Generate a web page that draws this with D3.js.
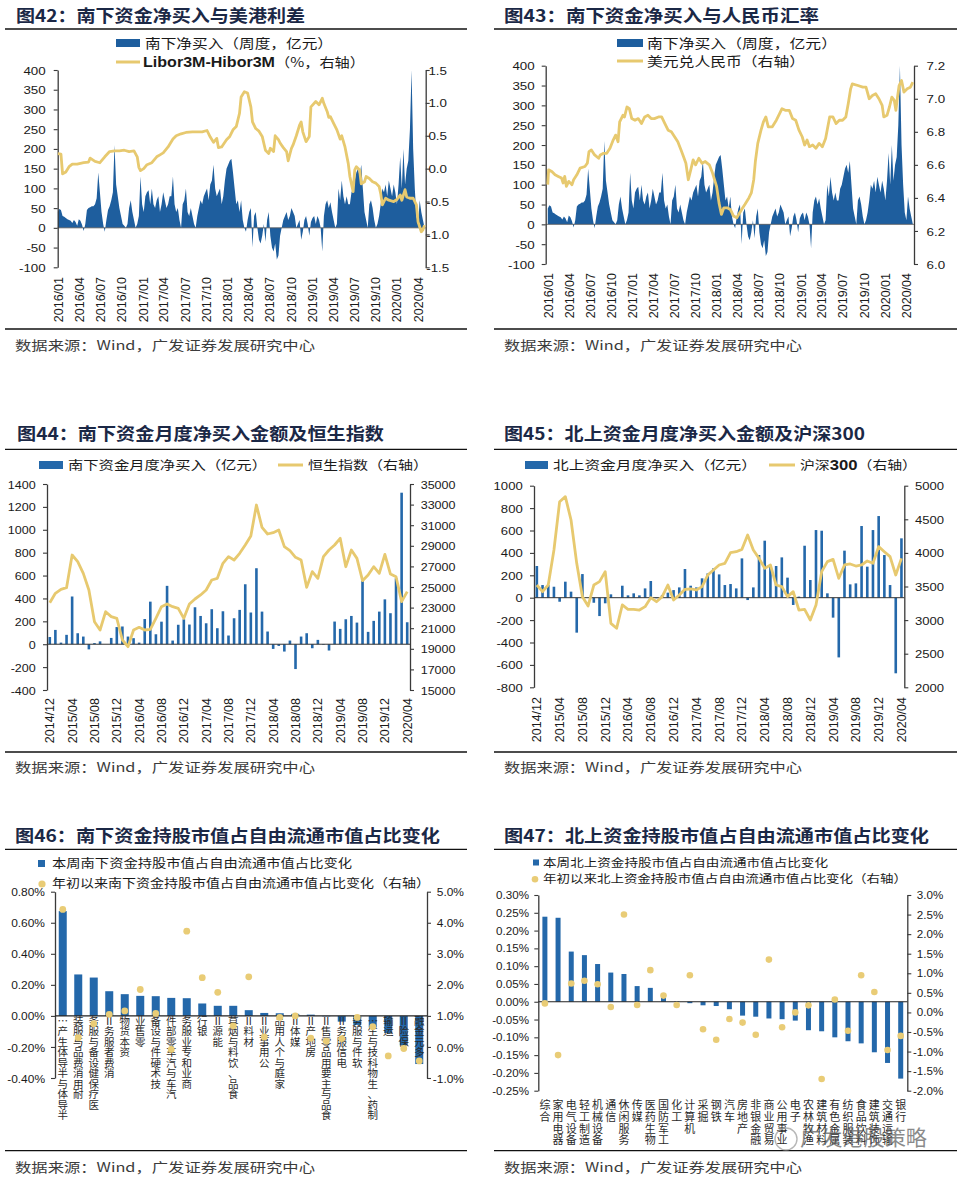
<!DOCTYPE html>
<html><head><meta charset="utf-8"><title>南下资金与北上资金</title>
<script src="https://cdn.jsdelivr.net/npm/d3@7/dist/d3.min.js"></script>
<style>html,body{margin:0;padding:0;background:#fff}svg{display:block}</style>
</head><body>
<svg id="chart" width="957" height="1179" xmlns="http://www.w3.org/2000/svg"></svg>
<script>
// ===================== DATA =====================
const titles = ["图42：南下资金净买入与美港利差","图43：南下资金净买入与人民币汇率","图44：南下资金月度净买入金额及恒生指数","图45：北上资金月度净买入金额及沪深300","图46：南下资金持股市值占自由流通市值占比变化","图47：北上资金持股市值占自由流通市值占比变化"];
const sourceText = "数据来源：Wind，广发证券发展研究中心";

// weekly southbound net buy (亿元), weeks starting 2016-01-01
const weekStart = "2016-01-01";
const weeklyNetBuy = [40,48,45,30,28,25,22,20,18,12,
 20,15,5,22,18,8,-8,10,45,50,
 52,55,55,60,75,140,90,40,10,-10,
 20,45,55,70,90,210,110,80,50,30,
 10,5,0,10,50,70,40,20,0,10,
 30,130,60,40,80,90,95,60,100,60,
 50,70,80,40,60,90,70,50,60,80,
 80,130,60,40,50,20,0,60,70,100,
 40,30,50,30,10,0,30,50,70,60,
 80,90,100,70,110,120,160,100,80,90,
 100,60,80,120,150,160,170,175,140,100,
 60,70,40,70,20,0,-10,20,40,50,
 -50,30,40,0,-30,-40,-20,10,-35,20,
 40,-20,-50,-60,-40,-80,-70,-20,0,20,
 30,40,20,30,50,40,30,0,10,20,
 -30,-10,20,30,10,-20,15,25,30,10,
 30,20,0,-60,30,60,70,50,65,40,
 20,0,10,100,70,120,80,60,80,60,
 60,90,100,120,140,150,130,160,100,40,
 20,0,60,70,50,20,0,10,30,60,
 100,90,110,80,120,100,80,110,90,60,
 110,180,100,200,110,150,170,250,400,200,
 100,30,10,70,40,20,0];

// Libor3M-Hibor3M (%), week number since weekStart
const liborWeek = [0,2,3,5,7,9,12,16,19,20,23,26,29,32,35,38,41,44,47,49,50,51,53,55,58,61,63,65,68,71,73,76,79,83,86,89,92,94,96,98,99,101,104,106,108,110,112,113,115,117,119,120,122,124,126,128,130,131,133,134,136,137,139,141,142,144,145,147,149,150,151,153,155,156,159,161,163,164,166,167,168,170,172,174,175,177,179,180,182,183,184,186,187,189,190,192,194,196,198,199,200,202,204,207,209,211,212,214,215,217,219,221,222,224,225,226];
const liborValue = [0.23,0.22,-0.08,-0.05,0.03,0.07,0.07,0.09,0.10,0.16,0.11,0.09,0.18,0.26,0.27,0.27,0.28,0.26,0.27,0.18,0.02,-0.03,0.0,0.06,0.09,0.18,0.21,0.24,0.33,0.45,0.50,0.53,0.55,0.56,0.56,0.56,0.58,0.48,0.40,0.46,0.32,0.33,0.44,0.49,0.59,0.64,0.84,1.09,1.17,1.15,0.94,0.71,0.61,0.57,0.49,0.28,0.23,0.31,0.26,0.50,0.44,0.39,0.32,0.26,0.12,0.31,0.36,0.50,0.66,0.71,0.56,0.41,0.49,0.94,1.02,0.97,1.07,0.99,0.87,0.78,0.79,0.69,0.59,0.45,0.50,0.33,0.08,-0.12,-0.35,-0.02,0.03,-0.02,-0.23,-0.20,-0.12,-0.15,-0.20,-0.22,-0.27,-0.38,-0.55,-0.45,-0.48,-0.50,-0.47,-0.40,-0.48,-0.32,-0.43,-0.45,-0.45,-0.55,-0.81,-0.96,-0.93,-0.86];

// USD/CNY, week number since weekStart
const cnyWeek = [0,0.5,2.5,4.5,6.5,8.5,9.5,10.5,11.5,13,15,16,18,20,23,24.5,25.5,27,29,31.5,32.5,34.5,36.5,38.5,40.5,42,43.5,44.5,46.5,47.5,49,50.5,52,54,56,58,60,62,64,66,68.5,70.5,72.5,74.5,76.5,78.5,80.5,82.5,84,85.5,87,88.5,90,91.5,93.5,95.5,97.5,100,102,104.5,106,107.5,109,111,113,115,117,120,122,124.5,126,127.5,128.5,130,132,133.5,135,136.5,139,141.5,143.5,145,147,149.5,151.5,153.5,155.5,157.5,159,160.5,162,164,166,168,170,172,174.5,176.5,178.5,180.5,182.5,184.5,186,187.5,188.5,192,195,197,199,201,203,205,207,208,210,211.5,213,214.5,215.5,216.5,217.5,219,220.5,222.5,224.5,226];
const cnyValue = [6.48,6.57,6.56,6.54,6.53,6.52,6.49,6.53,6.47,6.50,6.48,6.51,6.54,6.58,6.59,6.61,6.68,6.69,6.66,6.64,6.66,6.67,6.67,6.70,6.75,6.78,6.74,6.86,6.90,6.89,6.95,6.94,6.88,6.87,6.88,6.85,6.89,6.90,6.88,6.88,6.89,6.89,6.85,6.81,6.80,6.77,6.74,6.69,6.65,6.61,6.51,6.57,6.63,6.60,6.64,6.61,6.62,6.60,6.55,6.47,6.37,6.30,6.34,6.34,6.33,6.29,6.28,6.33,6.36,6.40,6.43,6.51,6.62,6.73,6.81,6.86,6.89,6.83,6.83,6.87,6.91,6.94,6.93,6.93,6.88,6.87,6.81,6.77,6.72,6.75,6.71,6.72,6.70,6.73,6.71,6.76,6.89,6.89,6.85,6.87,6.87,6.89,6.97,7.06,7.09,7.08,7.07,7.07,7.00,7.02,7.03,7.00,6.96,6.89,6.90,6.95,7.01,6.99,6.93,7.01,7.08,7.11,7.04,7.06,7.07,7.10];

const ticksWeekly = ["2016/01","2016/04","2016/07","2016/10","2017/01","2017/04","2017/07","2017/10","2018/01","2018/04","2018/07","2018/10","2019/01","2019/04","2019/07","2019/10","2020/01","2020/04"];

// monthly series 2014/12 .. 2020/04
const monthFirst = "2014/12", monthLast = "2020/04";
const southMonthly = [63,125,14,82,417,96,67,-45,10,25,
 0,55,150,155,67,53,14,220,372,87,
 197,510,32,170,218,172,323,247,183,306,
 140,288,76,227,300,524,277,664,285,111,
 -41,-15,-64,32,-217,67,96,-35,38,-5,
 -55,198,134,218,247,189,553,108,204,285,
 392,271,577,1324,192];
const hsiMonthly = [23480,24385,24773,24935,28105,27460,26325,24710,21635,20825,
 22605,22120,21960,19855,19205,20825,21085,20825,20890,21960,
 23090,23350,23090,22930,21960,23350,23835,24225,24710,25680,
 25840,27300,27945,27620,28270,29080,29950,32960,30790,30145,
 30275,30530,28915,28525,27880,27620,24965,26490,25840,27945,
 28590,29080,29725,26970,28590,27780,25615,26165,26970,26325,
 28170,26260,26000,23575,24545];
const northMonthly = [283,113,113,98,-36,143,54,-312,211,0,
 -45,-164,-50,30,0,107,21,39,21,83,
 149,-5,24,45,68,92,256,107,92,173,
 217,262,208,113,122,83,351,-21,92,381,
 509,283,283,360,179,-65,10,464,158,604,
 598,39,-178,-533,420,119,128,640,277,604,
 729,381,113,-675,530];
const hs300Monthly = [3522,3423,3522,4043,4762,4837,4490,3845,3349,3210,
 3522,3572,3721,2952,2878,3225,3160,3160,3150,3200,
 3334,3274,3349,3522,3299,3374,3458,3463,3448,3498,
 3671,3746,3820,3845,4003,4018,4053,4266,4043,3919,
 3770,3820,3522,3498,3349,3423,3150,3160,3002,3225,
 3721,3870,3904,3622,3820,3835,3805,3820,3880,3845,
 4093,4018,3944,3671,3919];
const ticksMonthly = ["2014/12","2015/04","2015/08","2015/12","2016/04","2016/08","2016/12","2017/04","2017/08","2017/12","2018/04","2018/08","2018/12","2019/04","2019/08","2019/12","2020/04"];

// chart 46
const cat46 = ["半导体与半导体生产…","耐用消费品与服装","医疗保健设备与服务","消费者服务Ⅱ","资本货物","零售业","技术硬件与设备","汽车与汽车零部件","商业和专业服务","银行","能源Ⅱ","食品、饮料与烟草","材料Ⅱ","公用事业Ⅱ","家庭与个人用品","媒体Ⅱ","房地产Ⅱ","食品与主要用品零售Ⅱ","电信服务Ⅱ","软件与服务","制药、生物科技与生…","运输","保险Ⅱ","多元金融"];
const bar46 = [0.675,0.267,0.247,0.159,0.14,0.129,0.127,0.116,0.114,0.08,0.065,0.065,0.037,0.019,0.017,0.013,0.008,-0.003,-0.037,-0.058,-0.075,-0.11,-0.19,-0.31];
const dot46 = [4.43,0.30,0.75,1.05,1.16,1.85,1.08,-0.08,3.73,2.23,1.76,0.68,2.26,0.32,0.95,1.0,0.28,0.19,0.27,0.95,0.65,-0.29,-0.05,-0.45];
// chart 47
const cat47 = ["综合","家用电器","电气设备","轻工制造","机械设备","通信","休闲服务","传媒","医药生物","国防军工","化工","计算机","采掘","钢铁","汽车","房地产","非银金融","商业贸易","公用事业","电子","农林牧渔","建筑材料","有色金属","纺织服装","食品饮料","建筑装饰","交通运输","银行"];
const bar47 = [0.239,0.236,0.141,0.131,0.106,0.082,0.078,0.044,0.039,0.012,0.001,-0.004,-0.010,-0.012,-0.021,-0.039,-0.042,-0.047,-0.049,-0.053,-0.080,-0.083,-0.100,-0.111,-0.117,-0.142,-0.172,-0.216];
const dot47 = [0.23,-1.09,0.74,0.81,0.72,0.14,2.50,0.19,1.08,0.43,0.19,0.95,-0.43,-0.70,-0.17,-0.26,-0.57,1.35,-0.38,0.0,0.18,-1.70,0.33,-0.47,0.95,0.52,-0.96,-0.60];

// axis tick values
const y42L = [400,350,300,250,200,150,100,50,0,-50,-100];
const y42R = [1.5,1.0,0.5,0,-0.5,-1.0,-1.5];
const y43R = [7.2,7.0,6.8,6.6,6.4,6.2,6.0];
const y44L = [1400,1200,1000,800,600,400,200,0,-200,-400];
const y44R = [35000,33000,31000,29000,27000,25000,23000,21000,19000,17000,15000];
const y45L = [1000,800,600,400,200,0,-200,-400,-600,-800];
const y45R = [5000,4500,4000,3500,3000,2500,2000];
const y46L = [0.8,0.6,0.4,0.2,0,-0.2,-0.4];
const y46R = [5,4,3,2,1,0,-1];
const y47L = [0.30,0.25,0.20,0.15,0.10,0.05,0,-0.05,-0.10,-0.15,-0.20,-0.25];
const y47R = [3,2.5,2,1.5,1,0.5,0,-0.5,-1,-1.5,-2];

const legend42 = ["南下净买入（周度，亿元）","Libor3M-Hibor3M","（%，右轴）"];
const legend43 = ["南下净买入（周度，亿元）","美元兑人民币（右轴）"];
const legend44 = ["南下资金月度净买入（亿元）","恒生指数（右轴）"];
const legend45 = ["北上资金月度净买入（亿元）","沪深","300","（右轴）"];
const legend46 = ["本周南下资金持股市值占自由流通市值占比变化","年初以来南下资金持股市值占自由流通市值占比变化（右轴）"];
const legend47 = ["本周北上资金持股市值占自由流通市值占比变化","年初以来北上资金持股市值占自由流通市值占比变化（右轴）"];

// ===================== DRAWING =====================
const svg = d3.select("#chart");
const BLUE = "#1e5e9e", BAR = "#2468aa", YEL = "#e7c96f", DOT = "#e9cc76", AX = "#3a3a3a";
const LAT = "'Liberation Sans', Arial, sans-serif";
const CJK = "'Noto Sans CJK SC', 'Liberation Sans', sans-serif";
const MIX = "'Liberation Sans', 'Noto Sans CJK SC', sans-serif";

svg.append("rect").attr("width", 957).attr("height", 1179).attr("fill", "#fff");

function T(p, x, y, s, o = {}) {
  let tr = `translate(${x},${y})`;
  if (o.sx && o.sx !== 1) tr += ` scale(${o.sx},1)`;
  if (o.rot) tr += ` rotate(${o.rot})`;
  const t = p.append("text").attr("transform", tr).text(s)
    .attr("font-family", o.fam || MIX).attr("font-size", o.size || 12)
    .attr("fill", o.fill || "#1a1a1a").attr("text-anchor", o.anchor || "start")
    .attr("dy", o.dy || "0.36em");
  if (o.w) t.attr("font-weight", o.w);
  if (o.len) t.attr("textLength", o.len).attr("lengthAdjust", "spacingAndGlyphs");
  if (o.op) t.attr("opacity", o.op);
  return t;
}
function hline(p, x1, x2, y, col, w) {
  p.append("line").attr("x1", x1).attr("x2", x2).attr("y1", y).attr("y2", y)
    .attr("stroke", col).attr("stroke-width", w);
}
function yAx(g, side, sc, vals, fmt, x, o) {
  const ax = (side === "L" ? d3.axisLeft(sc) : d3.axisRight(sc))
    .tickValues(vals).tickFormat(fmt).tickSizeInner(4).tickSizeOuter(0).tickPadding(0);
  const a = g.append("g").attr("transform", `translate(${x},0)`).call(ax);
  a.select(".domain").attr("stroke", AX).attr("stroke-width", 1.3);
  a.selectAll(".tick line").attr("stroke", AX).attr("stroke-width", 1.1);
  const off = side === "L" ? -o.off : o.off;
  a.selectAll(".tick text")
    .attr("x", null).attr("dy", "0.35em")
    .attr("transform", `translate(${off},0) scale(${o.sx || 1},1)`)
    .attr("text-anchor", o.anchor || (side === "L" ? "end" : "start"))
    .attr("font-family", LAT).attr("font-size", o.size).attr("fill", "#1a1a1a");
  return a;
}
function xAxRot(g, sc, vals, fmt, y, size) {
  const a = g.append("g").attr("transform", `translate(0,${y})`)
    .call(d3.axisBottom(sc).tickValues(vals).tickFormat(fmt).tickSize(0).tickPadding(0));
  a.select(".domain").remove();
  a.selectAll(".tick text").attr("y", null).attr("dy", "0.36em").attr("transform", "rotate(-90)")
    .attr("text-anchor", "end").attr("font-family", LAT).attr("font-size", size).attr("fill", "#1a1a1a");
}

// ---- titles, rules, sources ----
const frame = svg.append("g");
const TITLE = {fam: CJK, size: 17, w: "bold", fill: "#1b2846"};
T(frame, 16, 15.8, titles[0], {...TITLE, len: 289});
T(frame, 504, 15.8, titles[1], {...TITLE, len: 315});
T(frame, 17, 433.5, titles[2], {...TITLE, len: 367});
T(frame, 504, 433.5, titles[3], {...TITLE, len: 361});
T(frame, 15, 835.5, titles[4], {...TITLE, len: 425});
T(frame, 504, 835.5, titles[5], {...TITLE, len: 425});
[29, 449.3, 849.3, 329, 752, 1150.7].forEach(y => {
  hline(frame, 5, 467, y, "#111", 1.3);
  hline(frame, 494, 957, y, "#111", 1.3);
});
const SRC = {fam: CJK, size: 13, fill: "#3c3c3c"};
[345, 767, 1167].forEach(y => {
  T(frame, 15, y, sourceText, {...SRC, len: 300});
  T(frame, 504, y, sourceText, {...SRC, len: 298});
});

// ---- weekly panels (42, 43) ----
const parseM = d3.timeParse("%Y/%m");
const ws = d3.timeParse("%Y-%m-%d")(weekStart);
const weekDate = w => new Date(ws.getTime() + w * 7 * 864e5);

function weeklyPanel(o) {
  const g = svg.append("g");
  const x = d3.scaleTime().domain(o.dom).range([o.x0, o.x1]);
  const yL = d3.scaleLinear().domain([-100, 400]).range([o.yb, o.yt]);
  const yR = d3.scaleLinear().domain(o.rDom).range([o.yb, o.yt]);
  const id = "clip" + o.id;
  svg.append("clipPath").attr("id", id).append("rect")
    .attr("x", o.x0).attr("y", o.yt - 1).attr("width", o.x1 - o.x0).attr("height", o.yb - o.yt + 2);
  const pts = weeklyNetBuy.map((v, i) => ({d: weekDate(i), v}));
  g.append("path").datum(pts).attr("clip-path", `url(#${id})`).attr("fill", BLUE)
    .attr("d", d3.area().x(d => x(d.d)).y0(yL(0)).y1(d => yL(d.v)));
  hline(g, o.x0, o.x1, yL(0), "#555", 0.8);
  yAx(g, "L", yL, y42L, d => String(d), o.x0, {off: o.offL, size: 11.6, sx: 1.15});
  yAx(g, "R", yR, o.rTicks, d => d.toFixed(1), o.x1, {off: o.offR, size: 11.6, sx: 1.15, anchor: o.rAnchor});
  const line = o.lineW.map((w, i) => ({d: weekDate(w), v: o.lineV[i]}));
  g.append("path").datum(line).attr("fill", "none").attr("stroke", YEL).attr("stroke-width", 2.8)
    .attr("stroke-linejoin", "round").attr("clip-path", `url(#${id})`)
    .attr("d", d3.line().x(d => x(d.d)).y(d => yR(d.v)));
  xAxRot(g, x, ticksWeekly.map(parseM), d3.timeFormat("%Y/%m"), o.labY, 12.5);
  return g;
}
const g42 = weeklyPanel({id: 42, dom: [new Date(2016, 0, 1), new Date(2020, 4, 6)], x0: 57.7, x1: 425.7, yt: 70, yb: 267.3,
  rDom: [-1.5, 1.5], rTicks: y42R, lineW: liborWeek, lineV: liborValue, offL: 12, offR: 12, rAnchor: "middle", labY: 277});
const g43 = weeklyPanel({id: 43, dom: [new Date(2015, 11, 23), new Date(2020, 4, 6)], x0: 545.7, x1: 914, yt: 65.7, yb: 264,
  rDom: [6.0, 7.2], rTicks: y43R, lineW: cnyWeek, lineV: cnyValue, offL: 11, offR: 12.5, rAnchor: "start", labY: 273});

// legends 42/43
const LEG = {fam: CJK, size: 13, fill: "#1a1a1a"};
g42.append("rect").attr("x", 116).attr("y", 39).attr("width", 24).attr("height", 8).attr("fill", BLUE);
T(g42, 145, 43, legend42[0], {...LEG, len: 188});
hline(g42, 116, 140, 62, YEL, 3);
T(g42, 143, 62, legend42[1], {fam: LAT, size: 14, w: "bold", len: 132});
T(g42, 275, 62, legend42[2], {...LEG, len: 90});
g43.append("rect").attr("x", 617).attr("y", 39).attr("width", 26).attr("height", 8).attr("fill", BLUE);
T(g43, 647, 43, legend43[0], {...LEG, len: 190});
hline(g43, 617, 643, 61, YEL, 3);
T(g43, 647, 61, legend43[1], {...LEG, len: 158});

// ---- monthly panels (44, 45) ----
const months = d3.timeMonth.range(parseM(monthFirst), d3.timeMonth.offset(parseM(monthLast), 1)).map(d3.timeFormat("%Y/%m"));
function monthlyPanel(o) {
  const g = svg.append("g");
  const x = d3.scaleBand().domain(months).range([o.x0, o.x1]);
  const yL = d3.scaleLinear().domain(o.lDom).range([o.yb, o.yt]);
  const yR = d3.scaleLinear().domain(o.rDom).range([o.yb, o.yt]);
  yAx(g, "L", yL, o.lTicks, d => String(d), o.x0, {off: 11.3, size: 11.6, sx: o.sx});
  yAx(g, "R", yR, o.rTicks, d => String(d), o.x1, {off: 10.7, size: 11.6, sx: o.sx});
  const bw = 2.6;
  g.selectAll(null).data(o.bars).join("rect")
    .attr("x", (d, i) => x(months[i]) + x.bandwidth() / 2 - bw / 2).attr("width", bw)
    .attr("y", d => yL(Math.max(0, d))).attr("height", d => Math.abs(yL(d) - yL(0)))
    .attr("fill", BAR);
  hline(g, o.x0, o.x1, yL(0), "#333", 1);
  g.append("path").datum(o.line).attr("fill", "none").attr("stroke", YEL).attr("stroke-width", 2.8)
    .attr("stroke-linejoin", "round")
    .attr("d", d3.line().x((d, i) => x(months[i]) + x.bandwidth() / 2).y(d => yR(d)));
  xAxRot(g, x, ticksMonthly, d => d, o.labY, 12.5);
  return g;
}
const g44 = monthlyPanel({x0: 47, x1: 410, yt: 484, yb: 690, lDom: [-400, 1400], rDom: [15000, 35000],
  lTicks: y44L, rTicks: y44R, bars: southMonthly, line: hsiMonthly, labY: 698, sx: 1.08});
const g45 = monthlyPanel({x0: 534, x1: 904.3, yt: 485.7, yb: 687.3, lDom: [-800, 1000], rDom: [2000, 5000],
  lTicks: y45L, rTicks: y45R, bars: northMonthly, line: hs300Monthly, labY: 697, sx: 1.13});
const LEG2 = {fam: CJK, size: 12.5, fill: "#1a1a1a"};
g44.append("rect").attr("x", 39).attr("y", 461).attr("width", 24).attr("height", 8).attr("fill", BAR);
T(g44, 68, 465, legend44[0], {...LEG2, len: 199});
hline(g44, 278, 303, 465, YEL, 3);
T(g44, 308, 465, legend44[1], {...LEG2, len: 120});
g45.append("rect").attr("x", 525).attr("y", 461).attr("width", 23).attr("height", 8).attr("fill", BAR);
T(g45, 553, 465, legend45[0], {...LEG2, len: 204});
hline(g45, 769, 795, 465, YEL, 3);
{
  const t = g45.append("text").attr("transform", "translate(800,465)").attr("dy", "0.36em")
    .attr("font-family", CJK).attr("font-size", 12.5).attr("fill", "#1a1a1a")
    .attr("textLength", 117).attr("lengthAdjust", "spacingAndGlyphs");
  t.append("tspan").text(legend45[1]);
  t.append("tspan").attr("font-family", LAT).attr("font-weight", "bold").attr("font-size", 14).text(legend45[2]);
  t.append("tspan").text(legend45[3]);
}

// ---- share panels (46, 47) ----
function sharePanel(o) {
  const g = svg.append("g");
  const x = d3.scaleBand().domain(o.cats).range([o.x0, o.x1]);
  const yL = d3.scaleLinear().domain(o.lDom).range([o.yb, o.yt]);
  const yR = d3.scaleLinear().domain(o.rDom).range([o.yb, o.yt]);
  yAx(g, "L", yL, o.lTicks, d => d.toFixed(2) + "%", o.x0, {off: o.offL, size: o.fs, sx: o.sx});
  yAx(g, "R", yR, o.rTicks, d => d.toFixed(1) + "%", o.x1, {off: o.offR, size: o.fs, sx: o.sx, anchor: "end"});
  const cx = c => x(c) + x.bandwidth() / 2;
  g.selectAll(null).data(o.bars).join("rect")
    .attr("x", (d, i) => cx(o.cats[i]) - o.bw / 2).attr("width", o.bw)
    .attr("y", d => yL(Math.max(0, d))).attr("height", d => Math.abs(yL(d) - yL(0)))
    .attr("fill", BAR);
  hline(g, o.x0, o.x1, yL(0), "#222", 1.2);
  // category labels: one text per category, rotated line with upright glyphs
  o.cats.forEach(c => {
    const t = g.append("text").attr("font-family", CJK).attr("font-size", o.labSize)
      .attr("fill", "#2a2a2a").text(c);
    if (o.upward) {
      // reads bottom-to-top, last glyph just under the axis
      t.attr("transform", `translate(${cx(c)},${o.labTop - 0.62 * o.labSize}) rotate(-90)`)
        .attr("text-anchor", "end").attr("rotate", 90).attr("dy", "-0.5em");
    } else {
      // reads top-to-bottom
      t.attr("transform", `translate(${cx(c)},${o.labTop + 0.38 * o.labSize}) rotate(90)`)
        .attr("text-anchor", "start").attr("rotate", -90).attr("dy", "0.5em")
        .attr("letter-spacing", o.labLs);
    }
  });
  g.selectAll(null).data(o.dots).join("circle")
    .attr("cx", (d, i) => cx(o.cats[i])).attr("cy", d => yR(d)).attr("r", o.r).attr("fill", DOT);
  return g;
}
const g46 = sharePanel({cats: cat46, bars: bar46, dots: dot46, x0: 55, x1: 427, yt: 891.7, yb: 1078,
  lDom: [-0.4, 0.8], rDom: [-1, 5], lTicks: y46L, rTicks: y46R, offL: 10, offR: 37, fs: 11.6, sx: 1.03,
  bw: 8, r: 3.4, upward: true, labTop: 1021, labSize: 10.5});
const g47 = sharePanel({cats: cat47, bars: bar47, dots: dot47, x0: 538.3, x1: 907.3, yt: 895, yb: 1090.7,
  lDom: [-0.25, 0.30], rDom: [-2, 3], lTicks: y47L, rTicks: y47R, offL: 9.3, offR: 36, fs: 10.2, sx: 1.14,
  bw: 5, r: 3.3, upward: false, labTop: 1105, labSize: 11, labLs: 0.7});
const LEG3 = {fam: CJK, size: 12, fill: "#1a1a1a"};
g46.append("rect").attr("x", 38).attr("y", 860).attr("width", 7).attr("height", 7).attr("fill", BAR);
T(g46, 52, 863.5, legend46[0], {...LEG3, len: 300});
g46.append("circle").attr("cx", 42).attr("cy", 884).attr("r", 3.6).attr("fill", DOT);
T(g46, 52, 884, legend46[1], {...LEG3, len: 378});
g47.append("rect").attr("x", 533).attr("y", 859.5).attr("width", 6).attr("height", 6).attr("fill", BAR);
T(g47, 543, 862.7, legend47[0], {...LEG3, size: 11.5, len: 285});
g47.append("circle").attr("cx", 535).attr("cy", 879.3).attr("r", 3.3).attr("fill", DOT);
T(g47, 543, 879.3, legend47[1], {...LEG3, size: 11.5, len: 364});

// watermark (semi-transparent, as in the reference)
const wm = svg.append("g").attr("opacity", 0.7);
wm.append("circle").attr("cx", 786).attr("cy", 1139).attr("r", 11).attr("fill", "none").attr("stroke", "#9a9a9a").attr("stroke-width", 1.4);
T(wm, 800, 1137, "广发港股策略", {fam: CJK, size: 21, fill: "#5a5a5a", len: 127});
</script>
</body></html>
